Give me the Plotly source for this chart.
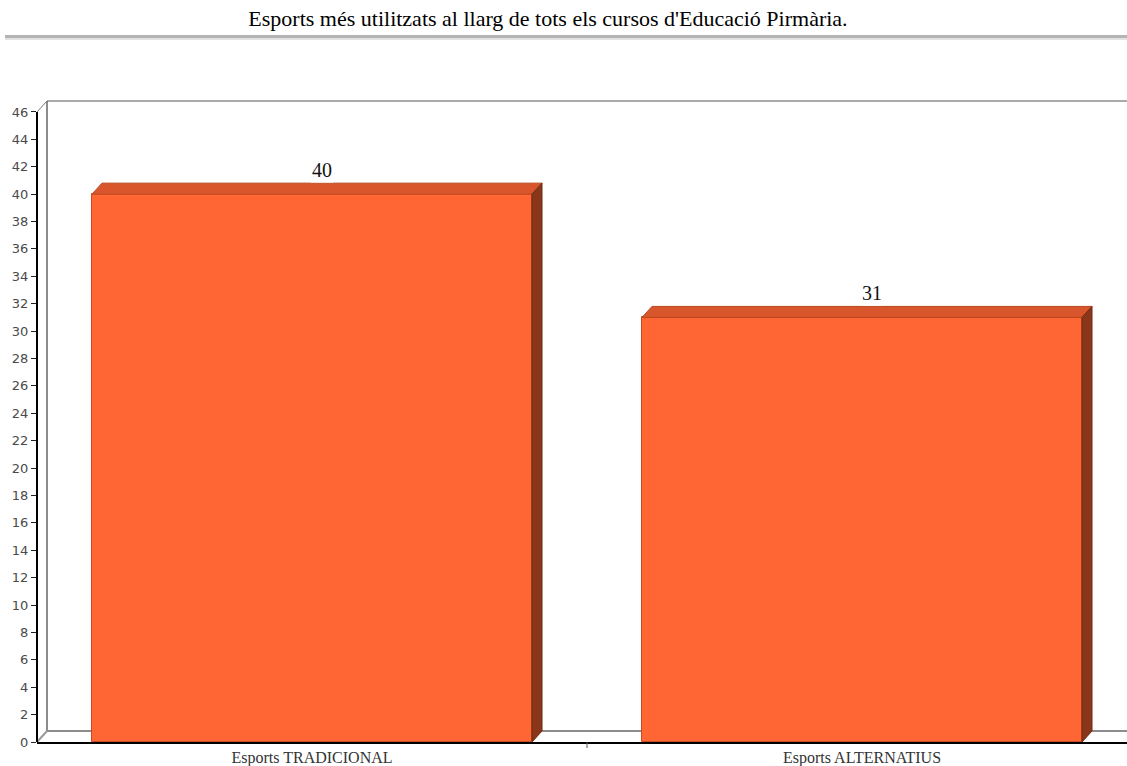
import plotly.graph_objects as go

# Data
categories = ["Esports TRADICIONAL", "Esports ALTERNATIUS"]
values = [40, 31]
y_ticks = list(range(0, 47, 2))

title_text = "Esports més utilitzats al llarg de tots els cursos d'Educació Pirmària."

# Geometry of the pseudo-3D box (in axis units)
X_RANGE = [-0.5, 1.4818]
Y_RANGE = [0, 46.8]
BAR_W = 0.8
DEPTH_X = 10 / 550
DEPTH_Y = 11 * 46.8 / 641

FRONT = "#FF6633"
TOP = "#D9562C"
SIDE = "#8A361A"


def px(x):
    return (x - X_RANGE[0]) / (X_RANGE[1] - X_RANGE[0])


def py(y):
    return (y - Y_RANGE[0]) / (Y_RANGE[1] - Y_RANGE[0])


def poly(points):
    return "M " + " L ".join(f"{px(x):.5f},{py(y):.5f}" for x, y in points) + " Z"


xs = list(range(len(categories)))

fig = go.Figure(
    go.Bar(
        x=xs,
        y=values,
        width=BAR_W,
        marker=dict(color=FRONT, line=dict(color="#C84C22", width=1)),
        hoverinfo="skip",
    )
)

shapes = []
wall = dict(color="#8C8C8C", width=2)

# back wall: left edge, floor, top edge and corner diagonals
shapes += [
    dict(type="line", xref="paper", yref="paper", layer="below",
         x0=px(X_RANGE[0] + DEPTH_X), x1=px(X_RANGE[0] + DEPTH_X),
         y0=py(DEPTH_Y), y1=py(Y_RANGE[1]), line=wall),
    dict(type="line", xref="paper", yref="paper", layer="below",
         x0=px(X_RANGE[0] + DEPTH_X), x1=1,
         y0=py(DEPTH_Y), y1=py(DEPTH_Y), line=wall),
    dict(type="line", xref="paper", yref="paper", layer="below",
         x0=px(X_RANGE[0] + DEPTH_X), x1=1, y0=1, y1=1,
         line=dict(color="#555555", width=1)),
    dict(type="line", xref="paper", yref="paper", layer="below",
         x0=0, x1=px(X_RANGE[0] + DEPTH_X), y0=py(y_ticks[-1]), y1=py(Y_RANGE[1]),
         line=dict(color="#777777", width=1)),
    dict(type="line", xref="paper", yref="paper", layer="below",
         x0=0, x1=px(X_RANGE[0] + DEPTH_X), y0=0, y1=py(DEPTH_Y),
         line=dict(color="#9A9A9A", width=2)),
]

# top and side faces of each bar
for x, v in zip(xs, values):
    x0, x1 = x - BAR_W / 2, x + BAR_W / 2
    shapes.append(dict(
        type="path", xref="paper", yref="paper",
        path=poly([(x0, v), (x0 + DEPTH_X, v + DEPTH_Y),
                   (x1 + DEPTH_X, v + DEPTH_Y), (x1, v)]),
        fillcolor=TOP, line=dict(color="#B8471F", width=1)))
    shapes.append(dict(
        type="path", xref="paper", yref="paper",
        path=poly([(x1, 0), (x1, v), (x1 + DEPTH_X, v + DEPTH_Y),
                   (x1 + DEPTH_X, DEPTH_Y)]),
        fillcolor=SIDE, line=dict(color="#6E2A12", width=1)))

# y axis line and middle category separator tick
shapes += [
    dict(type="line", xref="paper", yref="paper",
         x0=0, x1=0, y0=0, y1=py(y_ticks[-1]), line=dict(color="black", width=2)),
    dict(type="line", xref="paper", yref="paper",
         x0=px(0.5), x1=px(0.5), y0=0, y1=-6 / 641,
         line=dict(color="#555555", width=1)),
]

# grey rule under the title
shapes += [
    dict(type="rect", xref="paper", yref="paper",
         x0=-32 / 1090, x1=1, y0=(742 - 38) / 641, y1=(742 - 35) / 641,
         fillcolor="#B4B4B4", line=dict(width=0)),
    dict(type="rect", xref="paper", yref="paper",
         x0=-32 / 1090, x1=1, y0=(742 - 40) / 641, y1=(742 - 38) / 641,
         fillcolor="#E2E2E2", line=dict(width=0)),
]

annotations = [
    dict(x=x + DEPTH_X, y=v + DEPTH_Y, xref="x", yref="y",
         text=str(v), showarrow=False, yanchor="bottom", yshift=0,
         bgcolor="white", borderpad=1,
         font=dict(family="Liberation Serif", size=20, color="#111111"))
    for x, v in zip(xs, values)
]

fig.update_layout(
    width=1127,
    height=766,
    margin=dict(l=37, r=0, t=101, b=24),
    paper_bgcolor="white",
    plot_bgcolor="white",
    showlegend=False,
    bargap=0,
    title=dict(text=title_text, x=548 / 1127, xanchor="center", y=1 - 18 / 766,
               yanchor="middle",
               font=dict(family="Liberation Serif", size=22, color="black")),
    xaxis=dict(range=X_RANGE, tickvals=xs, ticktext=categories, ticks="",
               showgrid=False, zeroline=False, showline=True,
               linecolor="black", linewidth=2,
               tickfont=dict(family="Liberation Serif", size=16, color="#333333")),
    yaxis=dict(range=Y_RANGE, tickvals=y_ticks, ticks="outside", ticklen=5,
               tickcolor="#222222", showgrid=False, zeroline=False, showline=False,
               tickfont=dict(family="DejaVu Sans", size=13, color="#4A4A4A")),
    shapes=shapes,
    annotations=annotations,
)

fig.write_html("out.html")
